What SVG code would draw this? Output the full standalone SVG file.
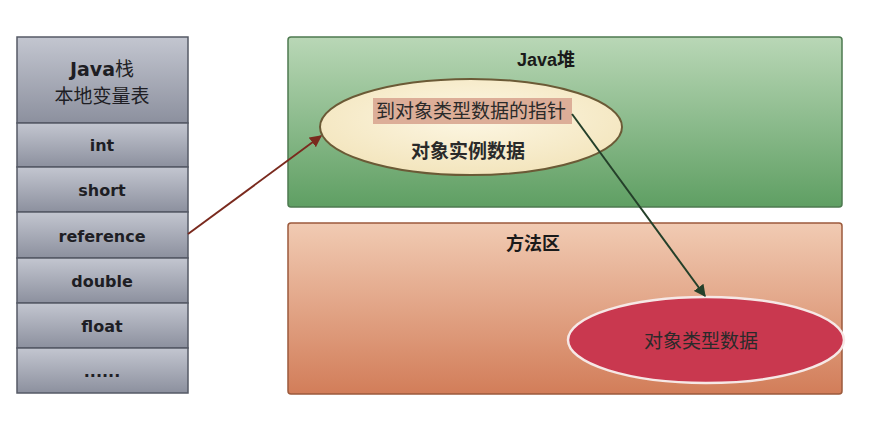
<svg xmlns="http://www.w3.org/2000/svg" width="887" height="425" viewBox="0 0 887 425">
<defs>
<linearGradient id="gCell" x1="0" y1="0" x2="0" y2="1">
<stop offset="0" stop-color="#c3c6d0"/><stop offset="1" stop-color="#8c909e"/>
</linearGradient>
<linearGradient id="gGreen" x1="0" y1="0" x2="0" y2="1">
<stop offset="0" stop-color="#b9d7b6"/><stop offset="1" stop-color="#5f9f63"/>
</linearGradient>
<linearGradient id="gOrange" x1="0" y1="0" x2="0" y2="1">
<stop offset="0" stop-color="#f1cbb3"/><stop offset="1" stop-color="#d27d59"/>
</linearGradient>
<radialGradient id="gCream" cx="0.5" cy="0.4" r="0.6">
<stop offset="0" stop-color="#fdf7e4"/><stop offset="1" stop-color="#f3e5bd"/>
</radialGradient>
<marker id="arrBrown" viewBox="0 0 10 10" refX="9" refY="5" markerWidth="6" markerHeight="6" orient="auto">
<path d="M0,0 L10,5 L0,10 z" fill="#7a2a1e"/>
</marker>
<marker id="arrGreen" viewBox="0 0 10 10" refX="9" refY="5" markerWidth="6" markerHeight="6" orient="auto">
<path d="M0,0 L10,5 L0,10 z" fill="#24402a"/>
</marker>
</defs>
<style>
.cell{fill:url(#gCell);stroke:#555a66;stroke-width:1.5}
.ct{font-family:"DejaVu Sans",sans-serif;font-weight:bold;font-size:16px;fill:#1e1e24;text-anchor:middle}
.hd{font-family:"DejaVu Sans","Noto Sans CJK SC",sans-serif;font-size:19px;fill:#1e1e24;text-anchor:middle}
.tt{font-family:"Liberation Sans","Noto Sans CJK SC",sans-serif;font-weight:bold;font-size:18px;fill:#1a1a1a;text-anchor:middle}
.lb{font-family:"Noto Sans CJK SC",sans-serif;font-size:19px;fill:#2a2a2a;text-anchor:middle}
</style>
<rect width="887" height="425" fill="#ffffff"/>
<g id="stack">
<rect class="cell" x="17" y="37" width="171" height="86"/>
<text class="hd" x="102" y="76"><tspan font-weight="bold">Java</tspan>栈</text>
<text class="hd" x="102" y="103">本地变量表</text>
</g>
<g id="cell-int"><rect class="cell" x="17" y="123" width="171" height="44"/><text class="ct" x="102" y="151">int</text></g>
<g id="cell-short"><rect class="cell" x="17" y="167" width="171" height="45"/><text class="ct" x="102" y="196">short</text></g>
<g id="cell-reference"><rect class="cell" x="17" y="212" width="171" height="46"/><text class="ct" x="102" y="242">reference</text></g>
<g id="cell-double"><rect class="cell" x="17" y="258" width="171" height="45"/><text class="ct" x="102" y="287">double</text></g>
<g id="cell-float"><rect class="cell" x="17" y="303" width="171" height="45"/><text class="ct" x="102" y="332">float</text></g>
<g id="cell-more"><rect class="cell" x="17" y="348" width="171" height="45"/><text class="ct" x="102" y="377">......</text></g>
<g id="heap">
<rect x="288" y="37" width="554" height="170" rx="3" fill="url(#gGreen)" stroke="#4d7a50" stroke-width="1.5"/>
<text class="tt" x="546" y="66">Java堆</text>
</g>
<g id="object">
<ellipse cx="471" cy="127" rx="151" ry="48" fill="url(#gCream)" stroke="#6b5a36" stroke-width="2"/>
<rect x="373" y="98" width="199" height="26" fill="#dcae98"/>
<text class="lb" x="471" y="118">到对象类型数据的指针</text>
<text class="lb" x="468" y="158" font-weight="bold">对象实例数据</text>
</g>
<g id="method">
<rect x="288" y="223" width="554" height="171" rx="3" fill="url(#gOrange)" stroke="#9c5a3c" stroke-width="1.5"/>
<text class="tt" x="533" y="250">方法区</text>
</g>
<g id="type">
<ellipse cx="706" cy="340" rx="138" ry="43" fill="#c9384f" stroke="#f6e8e6" stroke-width="2.5"/>
<text class="lb" x="701" y="348" fill="#2a1014">对象类型数据</text>
</g>
<g id="connectors">
<line x1="188" y1="234" x2="321" y2="136" stroke="#7a2a1e" stroke-width="2" marker-end="url(#arrBrown)"/>
<line x1="572" y1="114" x2="705" y2="296" stroke="#24402a" stroke-width="2" marker-end="url(#arrGreen)"/>
</g>
</svg>
